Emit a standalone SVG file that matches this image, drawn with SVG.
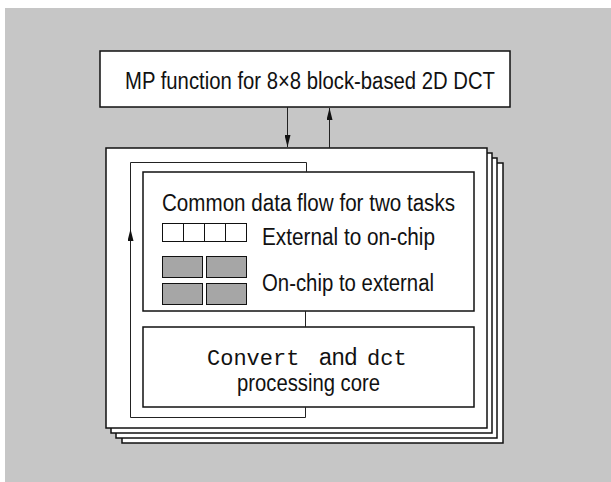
<svg xmlns="http://www.w3.org/2000/svg" width="611" height="482" viewBox="0 0 611 482">
<style>
.bg{fill:#c6c6c6}
.box{fill:#fff;stroke:#111;stroke-width:1.5}
.page{fill:#fff;stroke:#111;stroke-width:1.5}
.lbl{font-family:"Liberation Sans",Arial,sans-serif;font-size:23px;fill:#111}
.mono{font-family:"Liberation Mono","Courier New",monospace;font-size:22px;fill:#111}
.conn{fill:none;stroke:#222;stroke-width:1}
.wcell{fill:#fff;stroke:#111;stroke-width:1}
.gcell{fill:#a6a6a6;stroke:#111;stroke-width:1}
</style>
<defs>
<marker id="ah" viewBox="0 0 12 6" refX="12" refY="3" markerWidth="12" markerHeight="6" markerUnits="userSpaceOnUse" orient="auto">
<path d="M0,0 L12,3 L0,6 Z" fill="#111"/>
</marker>
</defs>
<rect class="bg" x="5" y="8" width="606" height="474"/>
<g id="mp-function">
<rect class="box" x="100" y="51" width="410" height="56"/>
<text class="lbl" x="125" y="89" font-size="24" textLength="370" lengthAdjust="spacingAndGlyphs">MP function for 8×8 block-based 2D DCT</text>
</g>
<g id="page-stack">
<rect class="page" x="122" y="163" width="381" height="280"/>
<rect class="page" x="116" y="158" width="381" height="280"/>
<rect class="page" x="111" y="153" width="381" height="280"/>
<rect class="page" x="106" y="148" width="381" height="280"/>
</g>
<g id="data-flow">
<rect class="box" x="143" y="172" width="331" height="139" stroke-width="1.2"/>
<text class="lbl" x="162" y="211" textLength="293" lengthAdjust="spacingAndGlyphs">Common data flow for two tasks</text>
<rect class="wcell" x="162.5" y="223.5" width="21" height="18"/>
<rect class="wcell" x="183.5" y="223.5" width="21" height="18"/>
<rect class="wcell" x="204.5" y="223.5" width="21" height="18"/>
<rect class="wcell" x="225.5" y="223.5" width="21" height="18"/>
<text class="lbl" x="262" y="245" textLength="173" lengthAdjust="spacingAndGlyphs">External to on-chip</text>
<rect class="gcell" x="162.5" y="256.5" width="40" height="21"/>
<rect class="gcell" x="206.5" y="256.5" width="40" height="21"/>
<rect class="gcell" x="162.5" y="283.5" width="40" height="21"/>
<rect class="gcell" x="206.5" y="283.5" width="40" height="21"/>
<text class="lbl" x="262" y="291" textLength="172" lengthAdjust="spacingAndGlyphs">On-chip to external</text>
</g>
<g id="core">
<rect class="box" x="143" y="327" width="331" height="80" stroke-width="1.2"/>
<text class="lbl" y="365"><tspan class="mono" x="207">Convert</tspan><tspan x="319">and</tspan><tspan class="mono" x="367">dct</tspan></text>
<text class="lbl" x="308.5" y="391" text-anchor="middle" textLength="143" lengthAdjust="spacingAndGlyphs">processing core</text>
</g>
<g id="connectors">
<line class="conn" x1="287.5" y1="107" x2="287.5" y2="147" marker-end="url(#ah)"/>
<line class="conn" x1="329.5" y1="148" x2="329.5" y2="108" marker-end="url(#ah)"/>
<line class="conn" x1="305.5" y1="311" x2="305.5" y2="327"/>
<path class="conn" d="M305.5,407 L305.5,417.5 L130.5,417.5 L130.5,162.5 L306.5,162.5 L306.5,172"/>
<line class="conn" x1="130.5" y1="260" x2="130.5" y2="229" marker-end="url(#ah)"/>
</g>
</svg>
